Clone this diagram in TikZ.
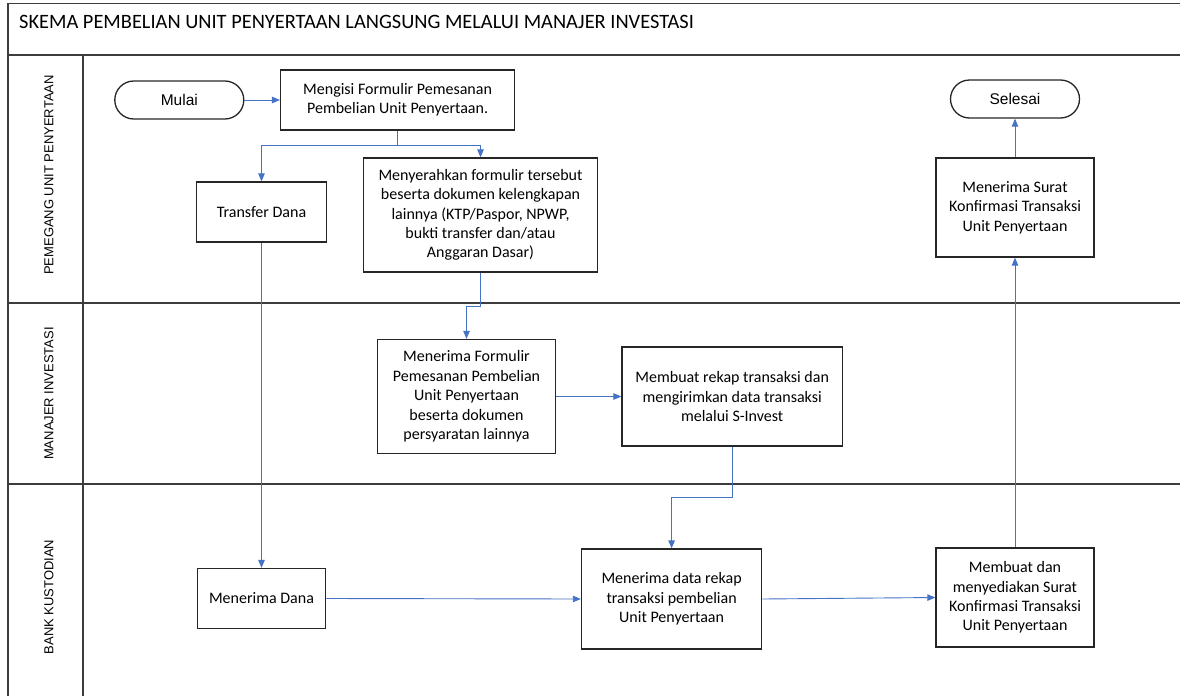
\documentclass[tikz,border=0pt]{standalone}
\usepackage{fontspec}
\setmainfont{Carlito}
\newfontfamily\arialf{Liberation Sans}
\usetikzlibrary{arrows.meta}
\definecolor{flowblue}{RGB}{68,114,196}
\definecolor{lanegray}{RGB}{60,60,60}
\begin{document}
\begin{tikzpicture}[x=1pt,y=-1pt,
  lane/.style={draw=lanegray,line width=1.6pt},
  procbox/.style={draw=black!85,line width=1.3pt,fill=white,inner sep=0pt,align=center,
    font=\fontsize{16}{19.4}\selectfont},
  termbox/.style={draw=black!85,line width=1.3pt,fill=white,inner sep=0pt,rounded corners=19pt,
    minimum width=129pt,minimum height=38pt,font=\arialf\fontsize{15.5}{18}\selectfont},
  lanelabel/.style={rotate=90,font=\arialf\fontsize{13}{15}\selectfont,inner sep=0pt},
  flow/.style={draw=flowblue,line width=0.9pt,-{Triangle[length=8pt,width=6.5pt]}}
]
\useasboundingbox (0,0) rectangle (1180,696);
% frame and lanes
\draw[lane] (8,696) -- (8,3.5) -- (1180,3.5);
\draw[lane] (8,55) -- (1180,55);
\draw[lane] (8,303) -- (1180,303);
\draw[lane] (8,484) -- (1180,484);
\draw[lane] (83,55) -- (83,696);
\node[anchor=west,inner sep=0pt,font=\fontsize{20.4}{24}\selectfont] (title) at (19,22) {SKEMA PEMBELIAN UNIT PENYERTAAN LANGSUNG MELALUI MANAJER INVESTASI};
\node[lanelabel] (l1) at (49,175) {PEMEGANG UNIT PENYERTAAN};
\node[lanelabel] (l2) at (49,393.5) {MANAJER INVESTASI};
\node[lanelabel] (l3) at (49,597) {BANK KUSTODIAN};
% nodes
\node[termbox] (mulai) at (179.3,100) {Mulai};
\node[procbox,minimum width=234pt,minimum height=60pt] (mengisi) at (397.6,100) {Mengisi Formulir Pemesanan\\Pembelian Unit Penyertaan.};
\node[procbox,minimum width=129.5pt,minimum height=60pt] (transfer) at (261.5,212) {Transfer Dana};
\node[procbox,minimum width=234.6pt,minimum height=114pt] (serah) at (480.5,215) {Menyerahkan formulir tersebut\\beserta dokumen kelengkapan\\lainnya (KTP/Paspor, NPWP,\\bukti transfer dan/atau\\Anggaran Dasar)};
\node[termbox] (selesai) at (1015,99) {Selesai};
\node[procbox,minimum width=158pt,minimum height=99pt] (surat) at (1015,207.5) {Menerima Surat\\Konfirmasi Transaksi\\Unit Penyertaan};
\node[procbox,minimum width=178.4pt,minimum height=114pt] (formulir) at (466.5,396.5) {Menerima Formulir\\Pemesanan Pembelian\\Unit Penyertaan\\beserta dokumen\\persyaratan lainnya};
\node[procbox,minimum width=220.3pt,minimum height=99pt] (rekap) at (732.2,396.5) {Membuat rekap transaksi dan\\mengirimkan data transaksi\\melalui S-Invest};
\node[procbox,minimum width=128.5pt,minimum height=60pt] (dana) at (261.5,598.5) {Menerima Dana};
\node[procbox,minimum width=180.3pt,minimum height=100pt] (data) at (671.6,599) {Menerima data rekap\\transaksi pembelian\\Unit Penyertaan};
\node[procbox,minimum width=158pt,minimum height=99pt] (buat) at (1015,597.5) {Membuat dan\\menyediakan Surat\\Konfirmasi Transaksi\\Unit Penyertaan};
% connectors
\draw[flow] (mulai.east) -- (mengisi.west);
\draw[flow] (mengisi.south) -- (mengisi.south |- 0,145) -| (transfer.north);
\draw[flow] (mengisi.south) -- (mengisi.south |- 0,145) -| (serah.north);
\draw[flow] (serah.south) -- (serah.south |- 0,306) -| (formulir.north);
\draw[flow] (transfer.south) -- (dana.north);
\draw[flow] (formulir.east) -- (rekap.west);
\draw[flow] (rekap.south) -- (rekap.south |- 0,497) -| (data.north);
\draw[flow] (dana.east) -- (data.west);
\draw[flow] (data.east) -- (buat.west);
\draw[flow] (buat.north) -- (surat.south);
\draw[flow] (surat.north) -- (selesai.south);
\end{tikzpicture}
\end{document}
